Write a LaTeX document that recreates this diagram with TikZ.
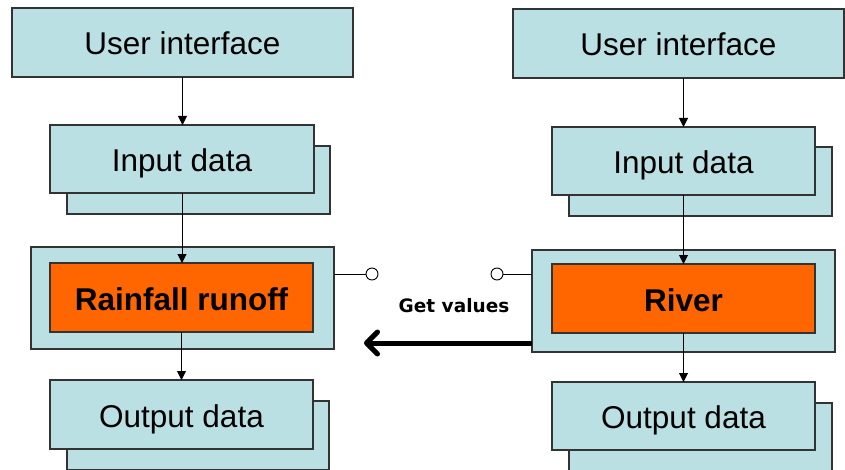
\documentclass[tikz,border=0pt]{standalone}
\usepackage{fontspec}
\setmainfont{Liberation Sans}
\newfontfamily\verdanalike{DejaVu Sans}
\usetikzlibrary{arrows.meta}
\definecolor{boxfill}{HTML}{BBE0E3}
\definecolor{runorange}{HTML}{FF6600}
\definecolor{edge}{HTML}{333333}
\begin{document}
\begin{tikzpicture}[x=1pt,y=-1pt,
  box/.style={draw=edge, line width=1.1pt, fill=boxfill, inner sep=0pt, outer sep=0pt,
    text height=25pt, text depth=0pt,
    font=\fontsize{31.5}{36}\selectfont},
  backbox/.style={box},
  outerbox/.style={box},
  corebox/.style={draw=edge, line width=1.1pt, fill=runorange, inner sep=0pt, outer sep=0pt,
    text height=25pt, text depth=0pt,
    font=\fontsize{31.5}{36}\selectfont\bfseries},
  arr/.style={draw=black, line width=1pt, -{Triangle[length=9pt,width=9pt]}},
  port/.style={circle, draw=black, line width=0.9pt, fill=white, minimum size=12pt, inner sep=0pt},
  portline/.style={draw=black, line width=0.9pt},
  bigarrow/.style={draw=black, line width=5pt,
    -{Straight Barb[length=11pt,width=22pt,line cap=round,line join=round]}},
  lbl/.style={font=\verdanalike\fontsize{18.5}{22}\selectfont\bfseries}
]
\useasboundingbox (0,0) rectangle (845,470);
\begin{scope}
\clip (0,0) rectangle (845,470);
% ---------- left column ----------
\node[box, minimum width=341pt, minimum height=69pt] (ui1) at (182.5,42.5) {User interface};
\node[backbox, minimum width=263pt, minimum height=68pt] (in1b) at (198.5,180) {};
\node[box, minimum width=264pt, minimum height=68pt] (in1) at (182,159) {Input data};
\node[outerbox, minimum width=303pt, minimum height=102pt] (rro) at (182.5,298) {};
\node[corebox, minimum width=263pt, minimum height=69pt] (rri) at (181.5,297.5) {Rainfall runoff};
\node[backbox, minimum width=262pt, minimum height=69pt] (out1b) at (198,435.5) {};
\node[box, minimum width=263pt, minimum height=69pt] (out1) at (181.5,414.5) {Output data};
% ---------- right column ----------
\node[box, minimum width=331pt, minimum height=69pt] (ui2) at (678.5,43.5) {User interface};
\node[backbox, minimum width=263pt, minimum height=69pt] (in2b) at (700.5,181.5) {};
\node[box, minimum width=263pt, minimum height=68pt] (in2) at (683.5,161) {Input data};
\node[outerbox, minimum width=303pt, minimum height=102pt] (rvo) at (683.5,301) {};
\node[corebox, minimum width=263pt, minimum height=69pt] (rvi) at (683.5,298.5) {River};
\node[backbox, minimum width=263pt, minimum height=69pt] (out2b) at (700.5,437.5) {};
\node[box, minimum width=263pt, minimum height=68pt] (out2) at (683.5,416) {Output data};
\end{scope}
% ---------- connectors ----------
\draw[arr] (ui1.south) -- (ui1.south |- in1.north);
\draw[arr] (in1.south) -- (in1.south |- rri.north);
\draw[arr] (rri.south) -- (rri.south |- out1.north);
\draw[arr] (ui2.south -| in2.north) -- (in2.north);
\draw[arr] (in2.south) -- (rvi.north);
\draw[arr] (rvi.south) -- (out2.north);
% ---------- ports ----------
\node[port] (c1) at (372,274) {};
\node[port] (c2) at (497,274) {};
\draw[portline] (rro.east |- c1) -- (c1);
\draw[portline] (rvo.west |- c2) -- (c2);
% ---------- get values ----------
\coordinate (gvstart) at (532,343);
\coordinate (gvend) at (364,343);
\draw[bigarrow] (gvstart) -- (gvend);
\node[lbl] (gv) at (454,306) {Get values};
\end{tikzpicture}
\end{document}
